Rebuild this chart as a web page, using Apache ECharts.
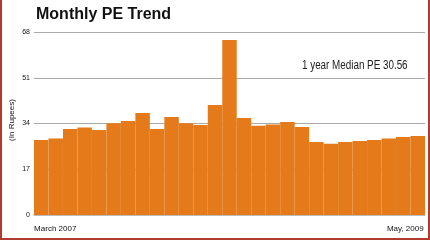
<!DOCTYPE html>
<html><head><meta charset="utf-8">
<script src="https://cdn.jsdelivr.net/npm/echarts@6/dist/echarts.min.js"></script>
<style>
html,body{margin:0;padding:0;background:#fff;}
#c{width:430px;height:240px;position:absolute;left:0;top:0;}
#f{position:absolute;left:0;top:0;width:430px;height:240px;box-sizing:border-box;border-left:2px solid #B23A2C;border-right:2px solid #B23A2C;border-bottom:2px solid #B23A2C;pointer-events:none;}
</style></head>
<body><div id="c"></div><div id="f"></div>
<script>
var months = ['Mar 2007','Apr 2007','May 2007','Jun 2007','Jul 2007','Aug 2007','Sep 2007','Oct 2007','Nov 2007','Dec 2007','Jan 2008','Feb 2008','Mar 2008','Apr 2008','May 2008','Jun 2008','Jul 2008','Aug 2008','Sep 2008','Oct 2008','Nov 2008','Dec 2008','Jan 2009','Feb 2009','Mar 2009','Apr 2009','May 2009'];
var peValues = [27.9,28.4,32.0,32.5,31.6,34.1,34.9,37.9,32.0,36.4,34.1,33.4,40.9,65.0,36.0,33.2,33.6,34.6,32.7,27.1,26.5,27.1,27.5,27.9,28.4,29.0,29.4];
var yTicks = [0,17,34,51,68];
var firstLabel = 'March 2007';
var lastLabel = 'May, 2009';
var titleText = 'Monthly PE Trend';
var yName = '(In Rupees)';
var noteText = '1 year Median PE 30.56';

var F = '"Liberation Sans",Arial,sans-serif';
var chart = echarts.init(document.getElementById('c'));
chart.setOption({
  animation:false,
  backgroundColor:'#fff',
  title:{text:titleText,left:31,top:2,textStyle:{fontFamily:F,fontWeight:'bold',fontSize:16,color:'#111'}},
  grid:{left:34,right:5,top:32,bottom:25,containLabel:false,outerBoundsMode:'none'},
  graphic:[
    {type:'text',x:302,y:60,scaleX:0.82,style:{text:noteText,font:'12px '+F,fill:'#222'}},
    {type:'text',x:12,y:120,rotation:Math.PI/2,style:{text:yName,font:'8px '+F,fill:'#111',align:'center',verticalAlign:'middle'}}
  ],
  xAxis:{type:'category',data:months,boundaryGap:true,
    axisLine:{show:true,lineStyle:{color:'#bbb'}},axisTick:{show:false},
    axisLabel:{interval:0,margin:10,fontSize:8,fontFamily:F,color:'#111',
      formatter:function(v,i){ if(i===0) return '{a|'+firstLabel+'}'; if(i===months.length-1) return '{b|'+lastLabel+'}'; return ''; },
      rich:{a:{fontSize:8,fontFamily:F,color:'#111',padding:[0,0,0,28]},b:{fontSize:8,fontFamily:F,color:'#111',padding:[0,25,0,0]}}
    }},
  yAxis:{type:'value',min:yTicks[0],max:yTicks[yTicks.length-1],interval:17,
    axisLine:{show:false},axisTick:{show:false},
    axisLabel:{margin:4,fontSize:7,fontFamily:F,color:'#111'},
    splitLine:{lineStyle:{color:'#aaa',width:1}}},
  series:[{type:'bar',data:peValues,barCategoryGap:'0%',itemStyle:{color:'#E47A1A'}}]
});
</script></body></html>
